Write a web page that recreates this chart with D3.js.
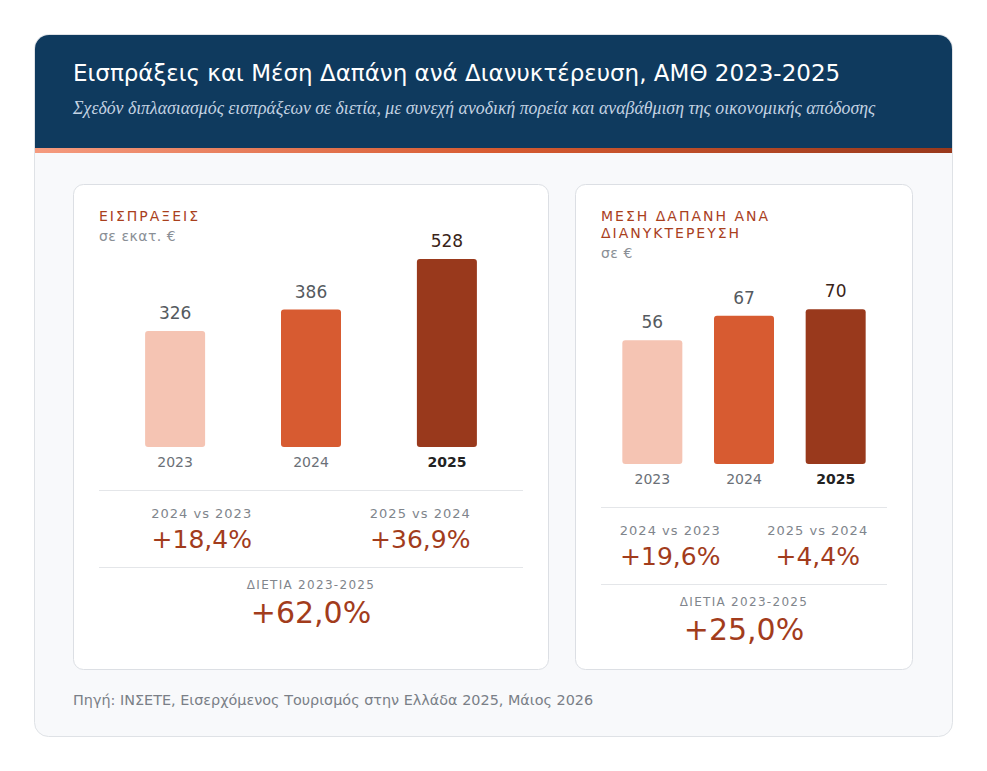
<!DOCTYPE html>
<html>
<head>
<meta charset="utf-8">
<script src="https://cdn.jsdelivr.net/npm/d3@7"></script>
<style>
  body { margin: 0; background: #ffffff; }
  svg { display: block; font-family: "DejaVu Sans", sans-serif; }
</style>
</head>
<body>
<svg id="chart" width="987" height="771"></svg>
<script>
// data
var years = ["2023", "2024", "2025"];
var receipts = [326, 386, 528];
var spending = [56, 67, 70];
var receiptsChangeLabels = ["2024 vs 2023", "2025 vs 2024"];
var receiptsChanges = ["+18,4%", "+36,9%"];
var receiptsTotal = "+62,0%";
var spendingChangeLabels = ["2024 vs 2023", "2025 vs 2024"];
var spendingChanges = ["+19,6%", "+4,4%"];
var spendingTotal = "+25,0%";
var barColors = ["#f5c4b3", "#d75b31", "#99391c"];

var svg = d3.select("#chart");
var defs = svg.append("defs");

var grad = defs.append("linearGradient").attr("id", "stripe");
grad.append("stop").attr("offset", "0%").attr("stop-color", "#f59b7f");
grad.append("stop").attr("offset", "50%").attr("stop-color", "#d75b31");
grad.append("stop").attr("offset", "100%").attr("stop-color", "#99391c");

// outer card
svg.append("rect")
    .attr("x", 34.5).attr("y", 34.5)
    .attr("width", 918).attr("height", 702)
    .attr("rx", 14)
    .attr("fill", "#f8f9fb")
    .attr("stroke", "#dfe2e6");

defs.append("clipPath").attr("id", "cardClip")
    .append("rect")
    .attr("x", 35).attr("y", 35)
    .attr("width", 917).attr("height", 701)
    .attr("rx", 14);

var head = svg.append("g").attr("clip-path", "url(#cardClip)");
head.append("rect")
    .attr("x", 34).attr("y", 34)
    .attr("width", 919).attr("height", 114)
    .attr("fill", "#0f3a5e");
head.append("rect")
    .attr("x", 34).attr("y", 148)
    .attr("width", 919).attr("height", 5)
    .attr("fill", "url(#stripe)");

svg.append("text")
    .attr("x", 73).attr("y", 81)
    .attr("fill", "#ffffff")
    .style("font-size", "23px")
    .text("Εισπράξεις και Μέση Δαπάνη ανά Διανυκτέρευση, ΑΜΘ 2023-2025");

svg.append("text")
    .attr("x", 73).attr("y", 114)
    .attr("fill", "#c3d2e2")
    .style("font-family", "'Liberation Serif', serif")
    .style("font-style", "italic")
    .style("font-size", "17.8px")
    .text("Σχεδόν διπλασιασμός εισπράξεων σε διετία, με συνεχή ανοδική πορεία και αναβάθμιση της οικονομικής απόδοσης");

svg.append("text")
    .attr("x", 73).attr("y", 705)
    .attr("fill", "#7a7f87")
    .style("font-size", "14.4px")
    .text("Πηγή: ΙΝΣΕΤΕ, Εισερχόμενος Τουρισμός στην Ελλάδα 2025, Μάιος 2026");

function panel(opt) {
    var g = svg.append("g");

    g.append("rect")
        .attr("x", opt.x + 0.5).attr("y", opt.y + 0.5)
        .attr("width", opt.w - 1).attr("height", opt.h - 1)
        .attr("rx", 10)
        .attr("fill", "#ffffff")
        .attr("stroke", "#dcdfe4");

    var left = opt.x + 26,
        right = opt.x + opt.w - 26;

    var ty = opt.y + 37;
    opt.title.forEach(function (t, i) {
        g.append("text")
            .attr("x", left).attr("y", ty + i * 17)
            .attr("fill", "#a9401d")
            .style("font-size", "14px")
            .style("letter-spacing", "2px")
            .text(t);
    });
    var unitY = ty + (opt.title.length - 1) * 17 + 20;
    g.append("text")
        .attr("x", left).attr("y", unitY)
        .attr("fill", "#8a8f96")
        .style("font-size", "14px")
        .style("letter-spacing", "0.5px")
        .text(opt.unit);

    var base = unitY + 206;
    var x = d3.scalePoint()
        .domain(years)
        .range([left, right])
        .padding(0.56);
    var y = d3.scaleLinear()
        .domain([0, opt.max])
        .range([base, base - 188]);

    var bw = 60;
    g.selectAll(".bar")
        .data(opt.values)
        .enter()
        .append("rect")
        .attr("class", "bar")
        .attr("x", function (d, i) { return x(years[i]) - bw / 2; })
        .attr("y", function (d) { return y(d); })
        .attr("width", bw)
        .attr("height", function (d) { return base - y(d); })
        .attr("rx", 3)
        .attr("fill", function (d, i) { return barColors[i]; });

    g.selectAll(".val")
        .data(opt.values)
        .enter()
        .append("text")
        .attr("class", "val")
        .attr("x", function (d, i) { return x(years[i]); })
        .attr("y", function (d) { return y(d) - 12; })
        .attr("text-anchor", "middle")
        .attr("fill", function (d, i) { return i == 2 ? "#3a2418" : "#555a60"; })
        .style("font-size", "17px")
        .text(function (d) { return d; });

    g.selectAll(".yr")
        .data(years)
        .enter()
        .append("text")
        .attr("class", "yr")
        .attr("x", function (d) { return x(d); })
        .attr("y", base + 20)
        .attr("text-anchor", "middle")
        .attr("fill", function (d, i) { return i == 2 ? "#222222" : "#6b7077"; })
        .style("font-size", "14px")
        .style("font-weight", function (d, i) { return i == 2 ? "bold" : "normal"; })
        .text(function (d) { return d; });

    var d1 = base + 43;
    var d2 = d1 + 77;
    [d1, d2].forEach(function (dy) {
        g.append("line")
            .attr("x1", left).attr("x2", right)
            .attr("y1", dy + 0.5).attr("y2", dy + 0.5)
            .attr("stroke", "#e4e6e9");
    });

    var cx = d3.scalePoint()
        .domain(opt.changeLabels)
        .range([left, right])
        .padding(0.47);

    opt.changeLabels.forEach(function (lab, i) {
        g.append("text")
            .attr("x", cx(lab)).attr("y", d1 + 28)
            .attr("text-anchor", "middle")
            .attr("fill", "#80858c")
            .style("font-size", "13px")
            .style("letter-spacing", "1px")
            .text(lab);
        g.append("text")
            .attr("x", cx(lab)).attr("y", d1 + 58)
            .attr("text-anchor", "middle")
            .attr("fill", "#a23c1c")
            .style("font-size", "25px")
            .text(opt.changes[i]);
    });

    var mid = (left + right) / 2;
    g.append("text")
        .attr("x", mid).attr("y", d2 + 22)
        .attr("text-anchor", "middle")
        .attr("fill", "#80858c")
        .style("font-size", "12px")
        .style("letter-spacing", "1.3px")
        .text("ΔΙΕΤΙΑ 2023-2025");
    g.append("text")
        .attr("x", mid).attr("y", d2 + 56)
        .attr("text-anchor", "middle")
        .attr("fill", "#a23c1c")
        .style("font-size", "30px")
        .text(opt.total);
}

panel({
    x: 73, y: 184, w: 476, h: 486,
    title: ["ΕΙΣΠΡΑΞΕΙΣ"],
    unit: "σε εκατ. €",
    values: receipts,
    max: 528,
    changeLabels: receiptsChangeLabels,
    changes: receiptsChanges,
    total: receiptsTotal
});

panel({
    x: 575, y: 184, w: 338, h: 486,
    title: ["ΜΕΣΗ ΔΑΠΑΝΗ ΑΝΑ", "ΔΙΑΝΥΚΤΕΡΕΥΣΗ"],
    unit: "σε €",
    values: spending,
    max: 85,
    changeLabels: spendingChangeLabels,
    changes: spendingChanges,
    total: spendingTotal
});
</script>
</body>
</html>
